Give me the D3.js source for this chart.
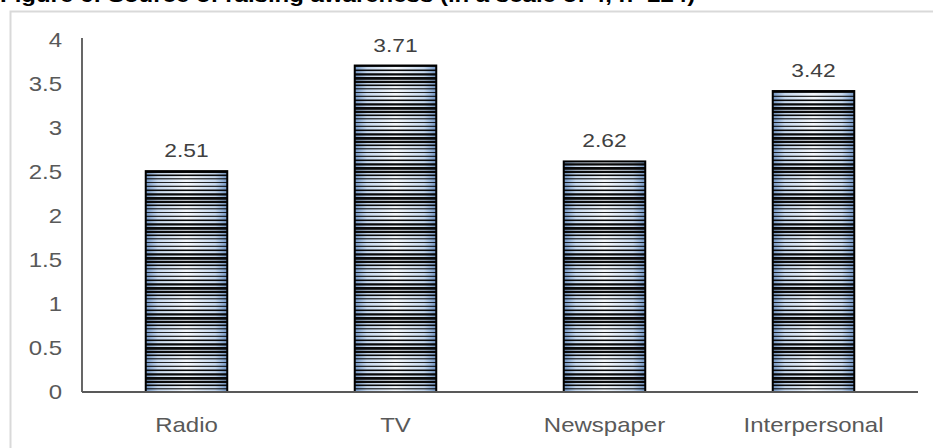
<!DOCTYPE html>
<html>
<head>
<meta charset="utf-8">
<script src="https://cdn.jsdelivr.net/npm/d3@7"></script>
<style>
  html, body { margin: 0; padding: 0; background: #fff; }
  svg { display: block; }
</style>
</head>
<body>
<svg id="chart" width="933" height="448"></svg>
<script>
// Survey results: mean score per source (scale of 4)
const titleText = "Figure 6: Source of raising awareness (in a scale of 4, n=224)";
const categories = ["Radio", "TV", "Newspaper", "Interpersonal"];
const values = [2.51, 3.71, 2.62, 3.42];
const tickValues = [0, 0.5, 1, 1.5, 2, 2.5, 3, 3.5, 4];
const tickLabels = ["0", "0.5", "1", "1.5", "2", "2.5", "3", "3.5", "4"];

const svg = d3.select("#chart");
const font = "'Liberation Sans', Arial, sans-serif";
const stretch = 1.2; // text is set slightly wide

const plotLeft = 82, plotRight = 918, plotTop = 40, plotBase = 392;

const x = d3.scaleBand().domain(categories).range([plotLeft, plotRight]).paddingInner(0.61).paddingOuter(0.305);
const y = d3.scaleLinear().domain([0, 4]).range([plotBase, plotTop]);

// chart area frame
svg.append("rect")
  .attr("x", 10.5).attr("y", 11.5).attr("width", 1000).attr("height", 1000)
  .attr("fill", "none").attr("stroke", "#d9d9d9").attr("stroke-width", 2);

function label(g, tx, ty, text, opts) {
  return g.append("text")
    .attr("transform", `translate(${tx},${ty}) scale(${stretch},1)`)
    .attr("text-anchor", opts.anchor || "middle")
    .attr("font-family", font)
    .attr("font-size", opts.size || 20)
    .attr("font-weight", opts.weight || "normal")
    .attr("fill", opts.color || "#595959")
    .text(text);
}

// title, partly above the top edge
label(svg, 0, 2, titleText, { anchor: "start", size: 20, weight: "bold", color: "#000" });

// fills: blue side shading plus narrow horizontal lines
const defs = svg.append("defs");
const grad = defs.append("linearGradient").attr("id", "barShade")
  .attr("x1", "0").attr("x2", "1").attr("y1", "0").attr("y2", "0");
grad.append("stop").attr("offset", "0").attr("stop-color", "#6f93c2");
grad.append("stop").attr("offset", "0.15").attr("stop-color", "#c6d8ee");
grad.append("stop").attr("offset", "0.5").attr("stop-color", "#f4f8fc");
grad.append("stop").attr("offset", "0.85").attr("stop-color", "#c6d8ee");
grad.append("stop").attr("offset", "1").attr("stop-color", "#6f93c2");

// line heights within one repeat: thin lines thickening into dark bands
const lineHeights = [0.9, 1.1, 1.6, 2.3, 2.8, 2.3, 1.6, 1.1];
const period = 30;
const pat = defs.append("pattern").attr("id", "hLines")
  .attr("patternUnits", "userSpaceOnUse")
  .attr("x", 0).attr("y", plotBase)
  .attr("width", 1000).attr("height", period);
lineHeights.forEach((h, i) => {
  pat.append("rect")
    .attr("x", 0).attr("y", i * period / lineHeights.length)
    .attr("width", 1000).attr("height", h)
    .attr("fill", "#0a0a0a");
});

const bars = svg.append("g");
categories.forEach((c, i) => {
  const bx = x(c), bw = x.bandwidth(), by = y(values[i]), bh = plotBase - y(values[i]);
  bars.append("rect").attr("x", bx).attr("y", by).attr("width", bw).attr("height", bh)
    .attr("fill", "url(#barShade)");
  bars.append("rect").attr("x", bx).attr("y", by).attr("width", bw).attr("height", bh)
    .attr("fill", "url(#hLines)");
  bars.append("rect").attr("x", bx).attr("y", by).attr("width", bw).attr("height", bh)
    .attr("fill", "none").attr("stroke", "#000").attr("stroke-width", 2);
});

// y axis
const yAxis = svg.append("g").attr("transform", `translate(${plotLeft},0)`)
  .call(d3.axisLeft(y).tickValues(tickValues).tickSize(0).tickFormat((d, i) => tickLabels[i]));
yAxis.select(".domain").attr("stroke", "#000").attr("stroke-width", 1.2)
  .attr("d", `M0,${plotTop - 2}V${plotBase}`);
yAxis.selectAll(".tick text").remove();
tickValues.forEach((v, i) => {
  label(svg, 62, y(v) + 7, tickLabels[i], { anchor: "end", size: 20 });
});

// x axis
const xAxis = svg.append("g").attr("transform", `translate(0,${plotBase})`)
  .call(d3.axisBottom(x).tickSize(0));
xAxis.select(".domain").attr("stroke", "#595959").attr("stroke-width", 2)
  .attr("d", `M${plotLeft},0H${plotRight}`);
xAxis.selectAll(".tick text").remove();
categories.forEach(c => {
  label(svg, x(c) + x.bandwidth() / 2, 432, c, { size: 20 });
});

// value labels
categories.forEach((c, i) => {
  label(svg, x(c) + x.bandwidth() / 2, y(values[i]) - 14, values[i].toFixed(2), { size: 19, color: "#404040" });
});
</script>
</body>
</html>
